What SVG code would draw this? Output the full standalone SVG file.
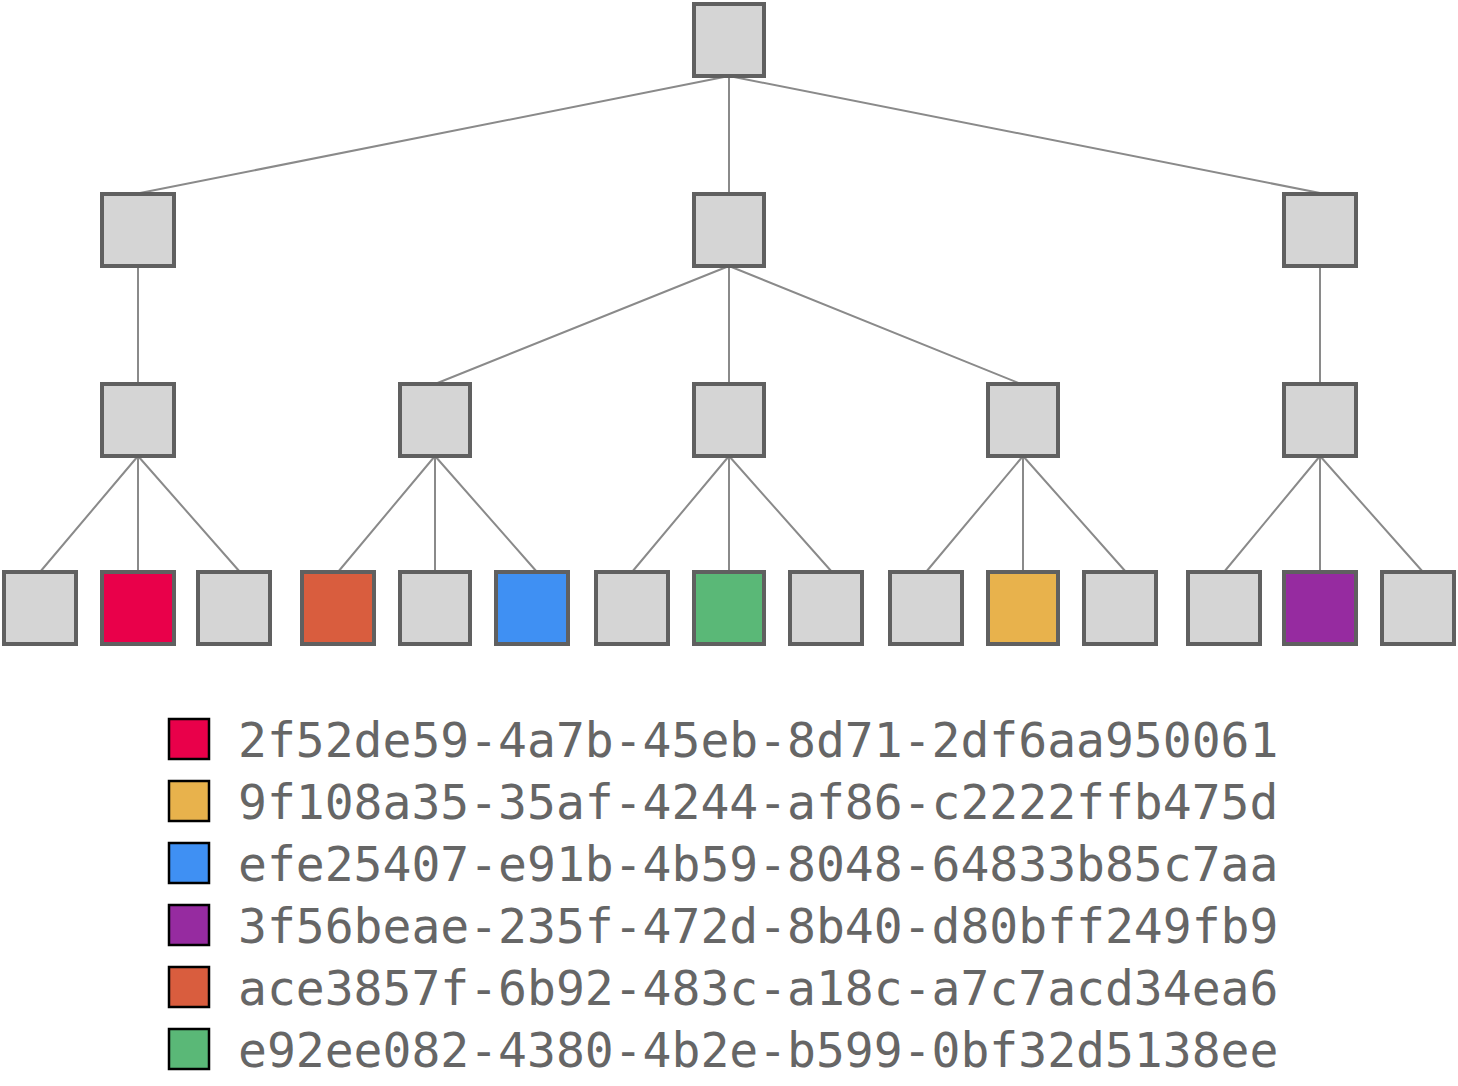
<svg xmlns="http://www.w3.org/2000/svg" width="1458" height="1086" viewBox="0 0 1458 1086">
<style>
.n{fill:#d5d5d5;stroke:#606060;stroke-width:4}
.e{stroke:#8a8a8a;stroke-width:2;fill:none}
.k{stroke:#000;stroke-width:2.5}
.t{font-family:"DejaVu Sans Mono",monospace;font-size:48px;fill:#666}
</style>
<rect width="1458" height="1086" fill="#fff"/>
<g id="edges">
<path class="e" d="M729 76L135 194M729 76L729 194M729 76L1325 194"/>
<path class="e" d="M138 266L138 384M729 266L435 384M729 266L729 384M729 266L1021 384M1320 266L1320 384"/>
<path class="e" d="M138 456L40 572M138 456L138 572M138 456L240 572"/>
<path class="e" d="M435 456L338 572M435 456L435 572M435 456L537 572"/>
<path class="e" d="M729 456L632 572M729 456L729 572M729 456L832 572"/>
<path class="e" d="M1023 456L926 572M1023 456L1023 572M1023 456L1126 572"/>
<path class="e" d="M1320 456L1224 572M1320 456L1320 572M1320 456L1423 572"/>
</g>
<g id="root"><rect class="n" x="694" y="4" width="70" height="72"/></g>
<g id="a"><rect class="n" x="102" y="194" width="72" height="72"/></g>
<g id="b"><rect class="n" x="694" y="194" width="70" height="72"/></g>
<g id="c"><rect class="n" x="1284" y="194" width="72" height="72"/></g>
<g id="a1"><rect class="n" x="102" y="384" width="72" height="72"/></g>
<g id="b1"><rect class="n" x="400" y="384" width="70" height="72"/></g>
<g id="b2"><rect class="n" x="694" y="384" width="70" height="72"/></g>
<g id="b3"><rect class="n" x="988" y="384" width="70" height="72"/></g>
<g id="c1"><rect class="n" x="1284" y="384" width="72" height="72"/></g>
<g id="l1"><rect class="n" x="4" y="572" width="72" height="72"/></g>
<g id="l2"><rect class="n" x="102" y="572" width="72" height="72" style="fill:#e9004a"/></g>
<g id="l3"><rect class="n" x="198" y="572" width="72" height="72"/></g>
<g id="l4"><rect class="n" x="302" y="572" width="72" height="72" style="fill:#d95d3e"/></g>
<g id="l5"><rect class="n" x="400" y="572" width="70" height="72"/></g>
<g id="l6"><rect class="n" x="496" y="572" width="72" height="72" style="fill:#3f90f3"/></g>
<g id="l7"><rect class="n" x="596" y="572" width="72" height="72"/></g>
<g id="l8"><rect class="n" x="694" y="572" width="70" height="72" style="fill:#5ab877"/></g>
<g id="l9"><rect class="n" x="790" y="572" width="72" height="72"/></g>
<g id="l10"><rect class="n" x="890" y="572" width="72" height="72"/></g>
<g id="l11"><rect class="n" x="988" y="572" width="70" height="72" style="fill:#e8b24c"/></g>
<g id="l12"><rect class="n" x="1084" y="572" width="72" height="72"/></g>
<g id="l13"><rect class="n" x="1188" y="572" width="72" height="72"/></g>
<g id="l14"><rect class="n" x="1284" y="572" width="72" height="72" style="fill:#962ba0"/></g>
<g id="l15"><rect class="n" x="1382" y="572" width="72" height="72"/></g>
<g id="legend">
<rect class="k" x="169" y="719" width="40" height="40" fill="#e9004a"/>
<text class="t" x="238" y="757">2f52de59-4a7b-45eb-8d71-2df6aa950061</text>
<rect class="k" x="169" y="781" width="40" height="40" fill="#e8b24c"/>
<text class="t" x="238" y="819">9f108a35-35af-4244-af86-c2222ffb475d</text>
<rect class="k" x="169" y="843" width="40" height="40" fill="#3f90f3"/>
<text class="t" x="238" y="881">efe25407-e91b-4b59-8048-64833b85c7aa</text>
<rect class="k" x="169" y="905" width="40" height="40" fill="#962ba0"/>
<text class="t" x="238" y="943">3f56beae-235f-472d-8b40-d80bff249fb9</text>
<rect class="k" x="169" y="967" width="40" height="40" fill="#d95d3e"/>
<text class="t" x="238" y="1005">ace3857f-6b92-483c-a18c-a7c7acd34ea6</text>
<rect class="k" x="169" y="1029" width="40" height="40" fill="#5ab877"/>
<text class="t" x="238" y="1067">e92ee082-4380-4b2e-b599-0bf32d5138ee</text>
</g>
</svg>
